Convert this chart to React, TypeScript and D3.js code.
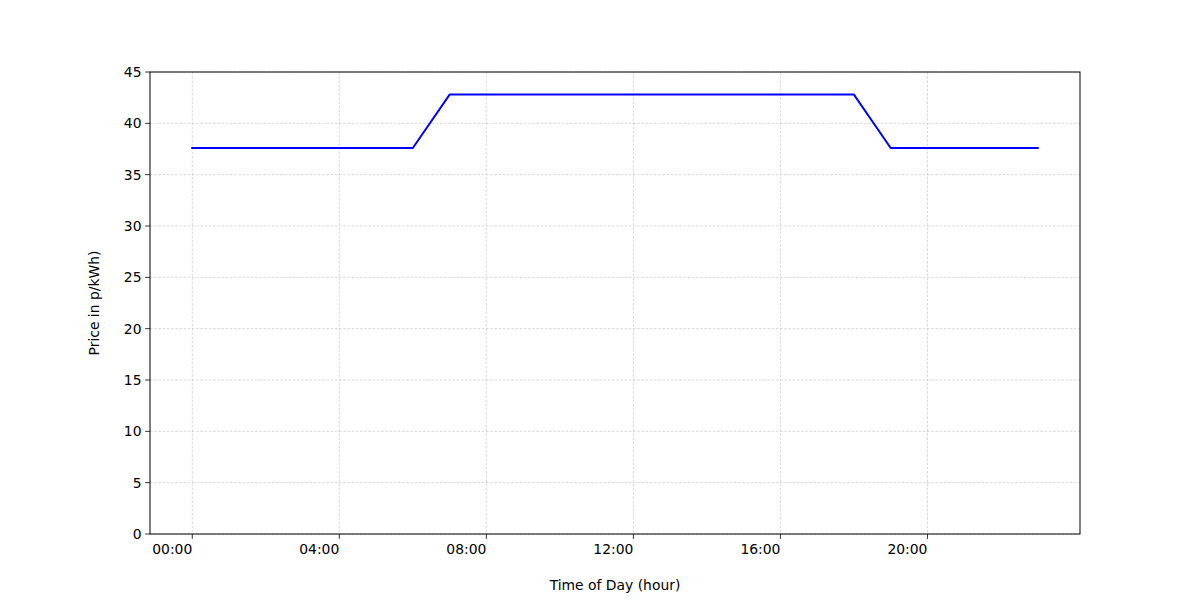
import React from "react";
import * as d3 from "d3";

const hours = [0,1,2,3,4,5,6,7,8,9,10,11,12,13,14,15,16,17,18,19,20,21,22,23];
const prices = [37.6,37.6,37.6,37.6,37.6,37.6,37.6,42.8,42.8,42.8,42.8,42.8,42.8,42.8,42.8,42.8,42.8,42.8,42.8,37.6,37.6,37.6,37.6,37.6];
const xTicks = [0, 4, 8, 12, 16, 20];
const xTickLabels = ["00:00", "04:00", "08:00", "12:00", "16:00", "20:00"];
const yTicks = [0, 5, 10, 15, 20, 25, 30, 35, 40, 45];

const W = 1200, H = 600;
const L = 150, R = 1080, T = 72, B = 534;
const FONT = "DejaVu Sans, sans-serif";
const FS = 13.9;

export default function App() {
  const x = d3.scaleLinear().domain([-1.15, 24.15]).range([L, R]);
  const y = d3.scaleLinear().domain([0, 45]).range([B, T]);
  const line = d3.line<number>().x((_, i) => x(hours[i])).y((d) => y(d));
  const path = line(prices) || "";
  return (
    <svg width={W} height={H} style={{ position: "absolute", left: 0, top: 0, background: "#fff" }}>
      <rect x={0} y={0} width={W} height={H} fill="#fff" />
      {xTicks.map((t) => (
        <line key={"gx" + t} x1={x(t)} x2={x(t)} y1={T} y2={B} stroke="#b0b0b0" strokeWidth={0.5} strokeDasharray="2.6,1.6" />
      ))}
      {yTicks.map((t) => (
        <line key={"gy" + t} x1={L} x2={R} y1={y(t)} y2={y(t)} stroke="#b0b0b0" strokeWidth={0.5} strokeDasharray="2.6,1.6" />
      ))}
      <path d={path} fill="none" stroke="#0000ff" strokeWidth={2} strokeLinejoin="round" strokeLinecap="square" />
      <rect x={L} y={T} width={R - L} height={B - T} fill="none" stroke="#000" strokeWidth={1} />
      {xTicks.map((t, i) => (
        <g key={"tx" + t}>
          <line x1={x(t)} x2={x(t)} y1={B} y2={B + 4.9} stroke="#000" strokeWidth={0.8} />
          <text x={x(t)} y={B + 9.5} dy="0.76em" textAnchor="end" fontFamily={FONT} fontSize={FS}>{xTickLabels[i]}</text>
        </g>
      ))}
      {yTicks.map((t) => (
        <g key={"ty" + t}>
          <line x1={L} x2={L - 4.9} y1={y(t)} y2={y(t)} stroke="#000" strokeWidth={0.8} />
          <text x={L - 8.5} y={y(t)} dy="0.35em" textAnchor="end" fontFamily={FONT} fontSize={FS}>{t}</text>
        </g>
      ))}
      <text x={(L + R) / 2} y={590} textAnchor="middle" fontFamily={FONT} fontSize={FS}>Time of Day (hour)</text>
      <text transform={`translate(99,${(T + B) / 2}) rotate(-90)`} textAnchor="middle" fontFamily={FONT} fontSize={FS}>Price in p/kWh)</text>
    </svg>
  );
}
